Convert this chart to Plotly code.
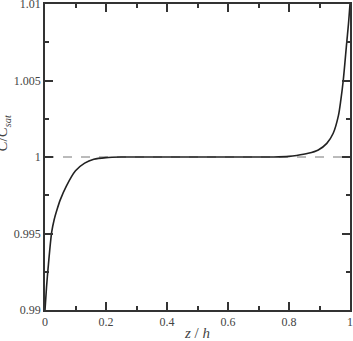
import plotly.graph_objects as go

# Data
z_vals = [0.0, 0.005, 0.01, 0.022, 0.03, 0.04, 0.05, 0.07, 0.1, 0.13, 0.16, 0.2, 0.25,
          0.3, 0.4, 0.5, 0.6, 0.7, 0.75, 0.8, 0.825, 0.863, 0.896, 0.924, 0.945, 0.962, 0.970,
          0.978, 0.989, 0.995, 1.0]
c_vals = [0.99, 0.9915, 0.9927, 0.9951, 0.9959, 0.9966, 0.9972, 0.9981, 0.9991, 0.9996,
          0.99985, 0.99996, 1.0,
          1.0, 1.0, 1.0, 1.0, 1.0, 1.0, 1.00004, 1.0001, 1.00024, 1.00046, 1.00089, 1.00155,
          1.0027, 1.00373, 1.00503, 1.00743, 1.0087, 1.01]
ref_x = [0.0, 1.0]
ref_y = [1.0, 1.0]
x_ticks = [0, 0.2, 0.4, 0.6, 0.8, 1]
x_ticklabels = ["0", "0.2", "0.4", "0.6", "0.8", "1"]
y_ticks = [0.99, 0.995, 1.0, 1.005, 1.01]
y_ticklabels = ["0.99", "0.995", "1", "1.005", "1.01"]

FONT = "Liberation Serif"
AX = "#333333"
x_dtick = round(x_ticks[1] - x_ticks[0], 6)
y_dtick = round(y_ticks[1] - y_ticks[0], 6)

fig = go.Figure()
fig.add_trace(go.Scatter(x=ref_x, y=ref_y, mode="lines",
                         line=dict(color="#777777", width=1, dash="dash"),
                         hoverinfo="skip", showlegend=False))
fig.add_trace(go.Scatter(x=z_vals, y=c_vals, mode="lines",
                         line=dict(color="#222222", width=1.6, shape="spline", smoothing=0.8),
                         showlegend=False))

fig.update_xaxes(range=[x_ticks[0], x_ticks[-1]], tick0=x_ticks[0], dtick=x_dtick,
                 ticks="inside", ticklen=8, tickwidth=2, tickcolor=AX,
                 showline=True, linecolor=AX, linewidth=1.5, mirror="ticks",
                 showgrid=False, zeroline=False, ticklabeloverflow="allow",
                 minor=dict(dtick=x_dtick / 2, ticks="inside", ticklen=4, tickwidth=2,
                            tickcolor=AX, showgrid=False),
                 tickfont=dict(family=FONT, size=12, color="#444444"),
                 title=dict(text="<i>z</i> / <i>h</i>",
                            font=dict(family=FONT, size=15, color="#444444"), standoff=2))
fig.update_yaxes(range=[y_ticks[0], y_ticks[-1]], tick0=y_ticks[0], dtick=y_dtick,
                 ticks="inside", ticklen=8, tickwidth=2, tickcolor=AX,
                 showline=True, linecolor=AX, linewidth=1.5, mirror="ticks",
                 showgrid=False, zeroline=False, ticklabeloverflow="allow",
                 minor=dict(dtick=y_dtick / 2, ticks="inside", ticklen=4, tickwidth=2,
                            tickcolor=AX, showgrid=False),
                 tickfont=dict(family=FONT, size=12, color="#444444"))

fig.add_annotation(text="<i>C</i>/<i>C</i><sub><i>sat</i></sub>", xref="paper", yref="paper",
                   x=-0.138, y=0.58, xanchor="center", yanchor="middle", textangle=-90,
                   showarrow=False, font=dict(family=FONT, size=15, color="#444444"))

fig.update_layout(template="none", width=353, height=341, margin=dict(l=45, r=3, t=4, b=31),
                  paper_bgcolor="white", plot_bgcolor="white", showlegend=False)

fig.write_html("out.html")
